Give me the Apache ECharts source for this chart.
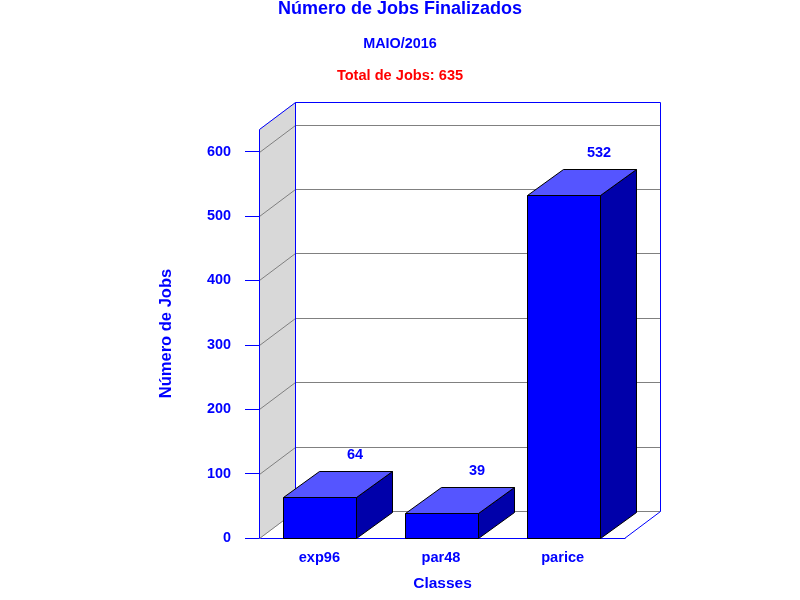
<!DOCTYPE html>
<html>
<head>
<meta charset="utf-8">
<style>html,body{margin:0;padding:0;background:#fff}#c{width:800px;height:600px}</style>
<script src="https://cdn.jsdelivr.net/npm/echarts@6/dist/echarts.min.js"></script>
</head>
<body>
<div id="c"></div>
<script>
const categories = ['exp96', 'par48', 'parice'];
const jobs = [64, 39, 532];
const yTicks = [0, 100, 200, 300, 400, 500, 600];
const yMax = 635;
const titleText = 'Número de Jobs Finalizados';
const subtitleText = 'MAIO/2016';
const totalText = 'Total de Jobs: 635';
const yName = 'Número de Jobs';
const xName = 'Classes';

const FONT = '"Liberation Sans", Arial, sans-serif';
const BLUE = '#0000ff';
const DX = 36, DY = -27, BAR_DX = 36, BAR_DY = -26;

function line(x1, y1, x2, y2, color) {
  return {type: 'line', shape: {x1, y1, x2, y2}, style: {stroke: color, lineWidth: 1, fill: null}, silent: true};
}
function poly(points, fill, stroke) {
  return {type: 'polygon', shape: {points}, style: {fill, stroke: stroke || fill, lineWidth: 1}, silent: true};
}

function renderWalls(params, api) {
  const cs = params.coordSys;
  const L = cs.x - 0.5, R = cs.x + cs.width - 0.5;
  const B = cs.y + cs.height + 0.5, T = cs.y + 0.5;
  const children = [
    poly([[L, T], [L + DX, T + DY], [L + DX, B + DY], [L, B]], '#d8d8d8')
  ];
  yTicks.forEach(function (v) {
    const y = Math.round(api.coord([0, v])[1]) + 0.5;
    children.push(line(L, y, L + DX, y + DY, '#808080'));
    children.push(line(L + DX, y + DY, R + DX, y + DY, '#808080'));
  });
  children.push(
    line(L, T, L + DX, T + DY, BLUE),
    line(L + DX, T + DY, R + DX, T + DY, BLUE),
    line(L + DX, T + DY, L + DX, B + DY, BLUE),
    line(R + DX, T + DY, R + DX, B + DY, BLUE),
    line(R, B, R + DX, B + DY, BLUE),
    line(L, T, L, B, BLUE)
  );
  return {type: 'group', children};
}

function renderBar(params, api) {
  const i = api.value(0), v = api.value(1);
  const base = api.coord([i, 0]);
  const top = api.coord([i, v]);
  const w = api.size([1, 0])[0] * 0.6;
  const x0 = Math.round(base[0] - w / 2) - 0.5, x1 = x0 + Math.round(w);
  const y0 = Math.round(top[1]) + 0.5, yb = Math.round(base[1]) + 0.5;
  return {
    type: 'group',
    children: [
      poly([[x1, y0], [x1 + BAR_DX, y0 + BAR_DY], [x1 + BAR_DX, yb + BAR_DY], [x1, yb]], '#0000aa', '#000'),
      poly([[x0, y0], [x0 + BAR_DX, y0 + BAR_DY], [x1 + BAR_DX, y0 + BAR_DY], [x1, y0]], '#5555ff', '#000'),
      poly([[x0, y0], [x1, y0], [x1, yb], [x0, yb]], '#0000ff', '#000'),
      {
        type: 'text', silent: true,
        style: {
          x: (x0 + x1) / 2 + BAR_DX - 1, y: y0 + BAR_DY - 17,
          text: String(v), fill: BLUE, align: 'center', verticalAlign: 'middle',
          font: 'bold 14.5px ' + FONT
        }
      }
    ]
  };
}

const chart = echarts.init(document.getElementById('c'), null, {renderer: 'canvas'});
chart.setOption({
  animation: false,
  backgroundColor: '#fff',
  title: [
    {text: titleText, left: 'center', top: 0, textStyle: {color: BLUE, fontFamily: FONT, fontWeight: 'bold', fontSize: 18}, padding: 0},
    {text: subtitleText, left: 'center', top: 37, textStyle: {color: BLUE, fontFamily: FONT, fontWeight: 'bold', fontSize: 14.4}, padding: 0},
    {text: totalText, left: 'center', top: 68, textStyle: {color: '#ff0000', fontFamily: FONT, fontWeight: 'bold', fontSize: 14.6}, padding: 0}
  ],
  grid: {left: 260, top: 129, width: 365, height: 409, containLabel: false, outerBoundsMode: 'none'},
  xAxis: {
    type: 'category', data: categories,
    name: xName, nameLocation: 'middle', nameGap: 38,
    nameTextStyle: {color: BLUE, fontFamily: FONT, fontWeight: 'bold', fontSize: 15.5},
    axisLine: {lineStyle: {color: BLUE, width: 1}},
    axisTick: {show: false},
    axisLabel: {color: BLUE, fontFamily: FONT, fontWeight: 'bold', fontSize: 14.6, margin: 12, padding: [0, 3, 0, 0]},
    splitLine: {show: false}
  },
  yAxis: {
    type: 'value', min: 0, max: yMax, interval: 100,
    name: yName, nameLocation: 'middle', nameGap: 85, nameRotate: 90,
    nameTextStyle: {color: BLUE, fontFamily: FONT, fontWeight: 'bold', fontSize: 16.5},
    axisLine: {show: true, lineStyle: {color: BLUE, width: 1}},
    axisTick: {show: true, length: 15, lineStyle: {color: BLUE, width: 1}, customValues: yTicks},
    axisLabel: {color: BLUE, fontFamily: FONT, fontWeight: 'bold', fontSize: 14.4, margin: 29, customValues: yTicks},
    splitLine: {show: false}
  },
  series: [
    {type: 'custom', coordinateSystem: 'cartesian2d', clip: false, z: 1, silent: true, renderItem: renderWalls, data: [[0, 0]]},
    {type: 'custom', coordinateSystem: 'cartesian2d', clip: false, z: 3, silent: true, renderItem: renderBar,
      encode: {x: 0, y: 1}, data: jobs.map(function (v, i) { return [i, v]; })}
  ]
});
</script>
</body>
</html>
